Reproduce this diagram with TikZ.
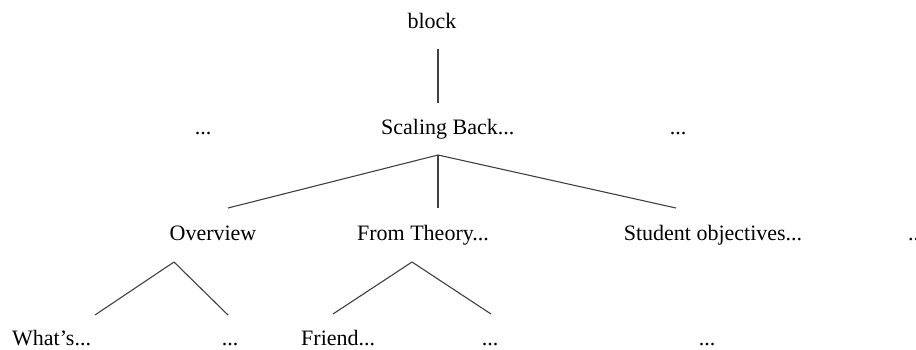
\documentclass[tikz,border=0pt]{standalone}
\usepackage{fontspec}
\setmainfont{Liberation Serif}
\begin{document}
\begin{tikzpicture}[x=1pt,y=1pt,
  lbl/.style={inner sep=0pt,anchor=base,font=\fontsize{22}{24}\selectfont},
  lblw/.style={lbl,anchor=base west},
  edge/.style={draw=black!75,line width=1.1pt}]
\useasboundingbox (0,0) rectangle (916,-349);
% nodes
\node[lbl] (block) at (432,-28) {block};
\node[lblw] (sb) at (381,-134) {Scaling Back...};
\node[lbl] (l1) at (203,-134) {...};
\node[lbl] (r1) at (678,-134) {...};
\node[lbl] (ov) at (213,-240) {Overview};
\node[lbl] (ft) at (423,-240) {From Theory...};
\node[lbl] (so) at (713,-240) {Student objectives...};
\node[lblw] (fr) at (908,-240) {...};
\node[lblw] (wh) at (12,-345) {What's...};
\node[lbl] (d1) at (230,-345) {...};
\node[lblw] (fri) at (301,-345) {Friend...};
\node[lbl] (d2) at (490,-345) {...};
\node[lbl] (d3) at (707,-345) {...};
% connector ends
\coordinate (block-out) at (438,-49);
\coordinate (sb-in) at (438,-103);
\coordinate (sb-out) at (438,-155);
\coordinate (ov-in) at (228,-208);
\coordinate (ft-in) at (438,-208);
\coordinate (so-in) at (676,-208);
\coordinate (ov-out) at (174,-262);
\coordinate (wh-in) at (95,-315);
\coordinate (d1-in) at (228,-315);
\coordinate (ft-out) at (412,-262);
\coordinate (fri-in) at (333,-314);
\coordinate (d2-in) at (491,-314);
% connectors
\draw[edge] (block-out) -- (sb-in);
\draw[edge] (sb-out) -- (ov-in);
\draw[edge] (sb-out) -- (ft-in);
\draw[edge] (sb-out) -- (so-in);
\draw[edge] (ov-out) -- (wh-in);
\draw[edge] (ov-out) -- (d1-in);
\draw[edge] (ft-out) -- (fri-in);
\draw[edge] (ft-out) -- (d2-in);
\end{tikzpicture}
\end{document}
